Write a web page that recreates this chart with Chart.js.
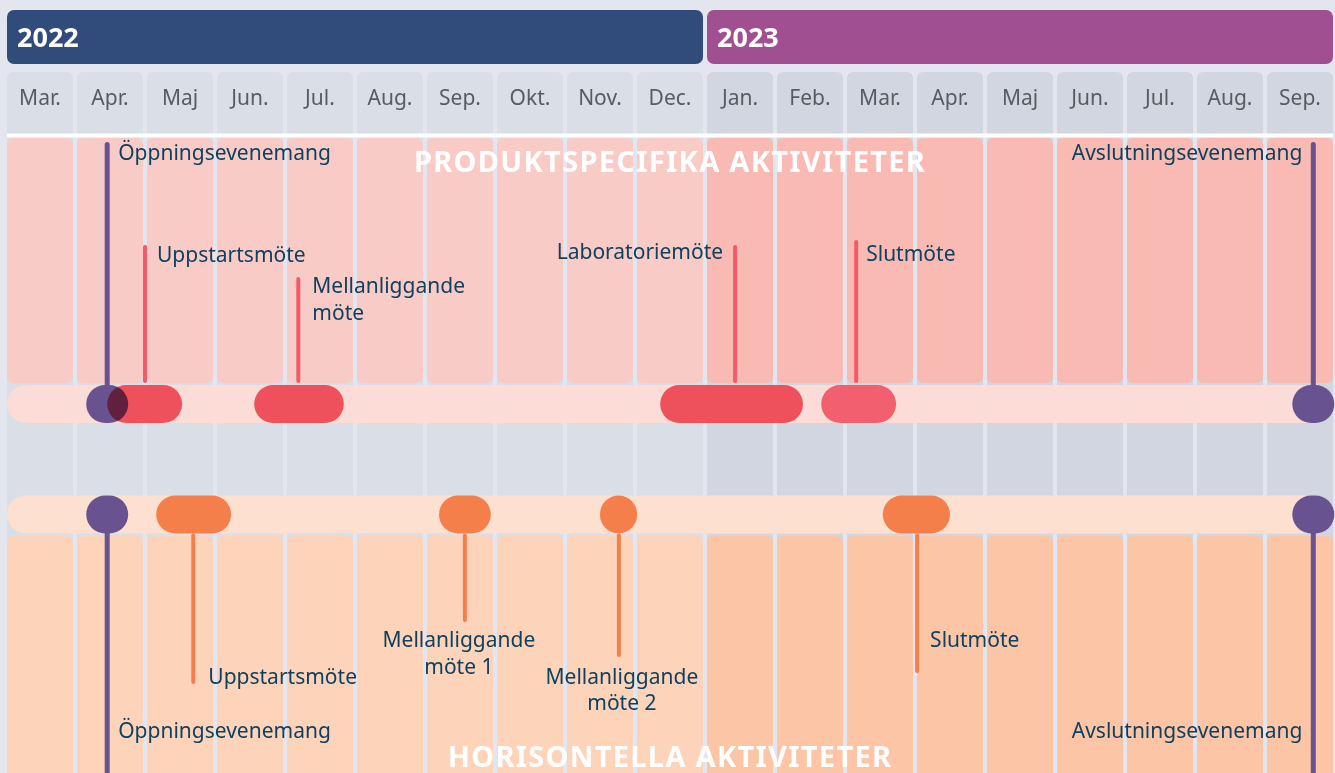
<!DOCTYPE html>
<html>
<head>
<meta charset="utf-8">
<script src="https://cdn.jsdelivr.net/npm/chart.js@4.4.0/dist/chart.umd.min.js"></script>
<style>
  body { margin: 0; background: #e3e6ef; }
  canvas { display: block; }
</style>
</head>
<body>
<canvas id="timeline" width="1335" height="773"></canvas>
<script>
// tidsaxel: index 0 = mars 2022, en enhet = en månad
var months = ['Mar.', 'Apr.', 'Maj', 'Jun.', 'Jul.', 'Aug.', 'Sep.', 'Okt.', 'Nov.', 'Dec.',
  'Jan.', 'Feb.', 'Mar.', 'Apr.', 'Maj', 'Jun.', 'Jul.', 'Aug.', 'Sep.'];
var years = ['2022', '2023'];
var yearFrom = [0, 10];
var yearTo = [10, 19];

// produktspecifika aktiviteter
var prodNames = ['Öppningsevenemang', 'Uppstartsmöte', 'Mellanliggande\nmöte', 'Laboratoriemöte', 'Slutmöte', 'Avslutningsevenemang'];
var prodFrom = [1.16, 1.46, 3.56, 9.36, 11.66, 18.39];
var prodTo = [1.76, 2.53, 4.84, 11.4, 12.73, 18.99];
var prodDate = [1.46, 2.0, 4.19, 10.43, 12.16, 18.69];

// horisontella aktiviteter
var horNames = ['Öppningsevenemang', 'Uppstartsmöte', 'Mellanliggande\nmöte 1', 'Mellanliggande\nmöte 2', 'Slutmöte', 'Avslutningsevenemang'];
var horFrom = [1.16, 2.16, 6.2, 8.5, 12.54, 18.39];
var horTo = [1.76, 3.23, 6.94, 9.03, 13.5, 18.99];
var horDate = [1.46, 2.69, 6.57, 8.77, 13.03, 18.69];

// första och sista är evenemang (lila), resten möten
var isEvent = [true, false, false, false, false, true];

// --- layout (inte data): rader på y-axeln, stjälkar och etiketter ---
var ROW = { year: 37, head: 72, line: 135.5, prodTop: 138, prodBot: 383, prodTrack: 404, horTrack: 514.5, horTop: 536, end: 790 };
var prodStemTop = [142, 245, 277, 245, 240, 142];
var prodLabel = [
  { dx: 11, y: [160], align: 'left' },
  { dx: 12, y: [262], align: 'left' },
  { dx: 14, y: [293, 320], align: 'left' },
  { dx: -12, y: [259], align: 'right' },
  { dx: 10, y: [261], align: 'left' },
  { dx: -11, y: [160], align: 'right' }
];
var horStemEnd = [790, 684, 622, 657, 673, 790];
var horLabel = [
  { dx: 11, y: [738], align: 'left' },
  { dx: 15, y: [684], align: 'left' },
  { dx: -6, y: [647, 674], align: 'center' },
  { dx: 3, y: [684, 710], align: 'center' },
  { dx: 13, y: [647], align: 'left' },
  { dx: -11, y: [738], align: 'right' }
];

var INSET = 2 / 70; // glapp mellan kolumnerna
var FONT = '"Noto Sans", "Open Sans", sans-serif';

function colFill(a, b) {
  return months.map(function (m, i) { return i < yearTo[0] ? a : b; });
}

function cols(top, bottom) {
  return months.map(function (m, i) { return { x: i + 0.5, y: [top, bottom] }; });
}

function pick(list, want) {
  var out = [];
  for (var i = 0; i < list.length; i++) if (isEvent[i] === want) out.push(i);
  return out;
}

var meetings = pick(prodNames, false);
var events = pick(prodNames, true);

var datasets = [
  // grå månadskolumner (rubrik + mellanrum)
  { data: cols(ROW.head, ROW.end), indexAxis: 'x', barThickness: 66, order: 30,
    backgroundColor: colFill('#dadee7', '#d2d6e0'),
    borderRadius: { topLeft: 6, topRight: 6, bottomLeft: 0, bottomRight: 0 } },
  // vit linje
  { data: [{ x: [INSET, 19 - INSET], y: ROW.line }], indexAxis: 'y', barThickness: 4, order: 29,
    backgroundColor: '#ffffff' },
  // rosa kolumner
  { data: cols(ROW.prodTop, ROW.prodBot), indexAxis: 'x', barThickness: 66, order: 28,
    backgroundColor: colFill('#f9cbc6', '#f9bab4'), borderRadius: 6 },
  // orange kolumner
  { data: cols(ROW.horTop, ROW.end), indexAxis: 'x', barThickness: 66, order: 28,
    backgroundColor: colFill('#fdd4ba', '#fbc5a6'),
    borderRadius: { topLeft: 6, topRight: 6, bottomLeft: 0, bottomRight: 0 } },
  // årsrubriker
  { data: years.map(function (y, i) { return { x: [yearFrom[i] + INSET, yearTo[i] - INSET], y: ROW.year }; }),
    indexAxis: 'y', barThickness: 54, order: 27, backgroundColor: ['#314c7b', '#a05091'], borderRadius: 7 },
  // spår
  { data: [{ x: [INSET, 19 - INSET], y: ROW.prodTrack }], indexAxis: 'y', barThickness: 38, order: 26,
    backgroundColor: '#fbdcd6', borderRadius: 19 },
  { data: [{ x: [INSET, 19 - INSET], y: ROW.horTrack }], indexAxis: 'y', barThickness: 38, order: 26,
    backgroundColor: '#fee0d0', borderRadius: 19 },
  // stjälkar
  { data: meetings.map(function (i) { return { x: prodDate[i], y: [prodStemTop[i], ROW.prodBot] }; }),
    indexAxis: 'x', barThickness: 4, order: 20, backgroundColor: '#f25a6a', borderRadius: 2 },
  { data: meetings.map(function (i) { return { x: horDate[i], y: [ROW.horTrack + 19, horStemEnd[i]] }; }),
    indexAxis: 'x', barThickness: 4, order: 20, backgroundColor: '#f47f4a', borderRadius: 2 },
  { data: events.map(function (i) { return { x: prodDate[i], y: [prodStemTop[i], ROW.prodTrack] }; })
      .concat(events.map(function (i) { return { x: horDate[i], y: [ROW.horTrack, horStemEnd[i]] }; })),
    indexAxis: 'x', barThickness: 5, order: 20, backgroundColor: '#685390', borderRadius: 2.5 },
  // evenemang (lila)
  { data: events.map(function (i) { return { x: [prodFrom[i], prodTo[i]], y: ROW.prodTrack }; })
      .concat(events.map(function (i) { return { x: [horFrom[i], horTo[i]], y: ROW.horTrack }; })),
    indexAxis: 'y', barThickness: 38, order: 15, backgroundColor: '#685390', borderRadius: 19 },
  // möten, produktspecifika (multipliceras mot spåret)
  { data: meetings.slice(0, 3).map(function (i) { return { x: [prodFrom[i], prodTo[i]], y: ROW.prodTrack }; }),
    indexAxis: 'y', barThickness: 38, order: 10, backgroundColor: '#f25e6e', borderRadius: 19, multiply: true },
  { data: meetings.slice(3).map(function (i) { return { x: [prodFrom[i], prodTo[i]], y: ROW.prodTrack }; }),
    indexAxis: 'y', barThickness: 38, order: 10, backgroundColor: '#f25f6f', borderRadius: 19 },
  // möten, horisontella
  { data: meetings.map(function (i) { return { x: [horFrom[i], horTo[i]], y: ROW.horTrack }; }),
    indexAxis: 'y', barThickness: 38, order: 10, backgroundColor: '#f47f4a', borderRadius: 19 }
];

datasets.forEach(function (d) {
  d.grouped = false;
  d.borderSkipped = false;
  d.inflateAmount = 0;
});

var blend = {
  id: 'blend',
  beforeDatasetDraw: function (chart, args) {
    if (chart.data.datasets[args.index].multiply) {
      chart.ctx.save();
      chart.ctx.globalCompositeOperation = 'multiply';
    }
  },
  afterDatasetDraw: function (chart, args) {
    if (chart.data.datasets[args.index].multiply) chart.ctx.restore();
  }
};

function drawLabels(ctx, xs, names, date, place) {
  for (var i = 0; i < names.length; i++) {
    var lines = names[i].split('\n');
    var p = place[i];
    ctx.textAlign = p.align;
    for (var k = 0; k < lines.length; k++) {
      ctx.fillText(lines[k], xs.getPixelForValue(date[i]) + p.dx, p.y[k]);
    }
  }
}

var texts = {
  id: 'texts',
  afterDatasetsDraw: function (chart) {
    var ctx = chart.ctx;
    var xs = chart.scales.x;
    ctx.save();
    ctx.textBaseline = 'alphabetic';

    // år
    ctx.fillStyle = '#ffffff';
    ctx.font = 'bold 27px ' + FONT;
    ctx.textAlign = 'left';
    years.forEach(function (y, i) {
      ctx.fillText(y, xs.getPixelForValue(yearFrom[i]) + 12, 47);
    });

    // månader
    ctx.fillStyle = '#575c62';
    ctx.font = '21px ' + FONT;
    ctx.textAlign = 'center';
    months.forEach(function (m, i) {
      ctx.fillText(m, xs.getPixelForValue(i + 0.5), 105);
    });

    // sektionsrubriker
    ctx.fillStyle = '#ffffff';
    ctx.font = 'bold 29px ' + FONT;
    ctx.letterSpacing = '1.3px';
    ctx.fillText('PRODUKTSPECIFIKA AKTIVITETER', xs.getPixelForValue(9.5), 172);
    ctx.fillText('HORISONTELLA AKTIVITETER', xs.getPixelForValue(9.5), 767);
    ctx.letterSpacing = '0px';

    // etiketter
    ctx.fillStyle = '#0f405e';
    ctx.font = '21px ' + FONT;
    drawLabels(ctx, xs, prodNames, prodDate, prodLabel);
    drawLabels(ctx, xs, horNames, horDate, horLabel);
    ctx.restore();
  }
};

var ctx = document.getElementById('timeline');
var timeline = new Chart(ctx, {
  type: 'bar',
  data: { datasets: datasets },
  options: {
    responsive: false,
    animation: false,
    events: [],
    layout: { padding: 0 },
    plugins: { legend: { display: false }, tooltip: { enabled: false } },
    scales: {
      x: { type: 'linear', display: false, offset: false, grid: { offset: false }, bounds: 'data', min: -5 / 70, max: 19 },
      y: { type: 'linear', display: false, offset: false, grid: { offset: false }, bounds: 'data', reverse: true, min: 0, max: 773 }
    }
  },
  plugins: [blend, texts]
});
</script>
</body>
</html>
